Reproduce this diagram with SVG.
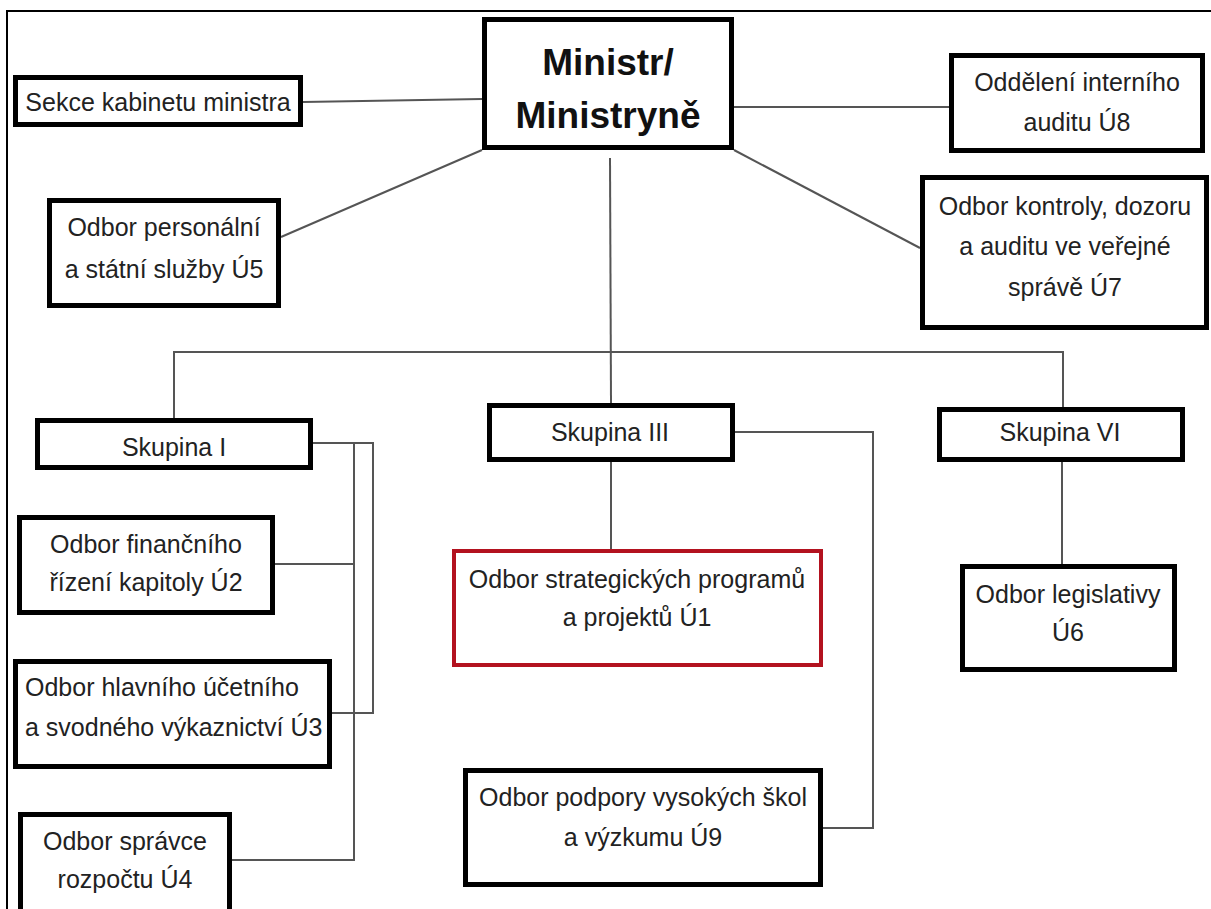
<svg xmlns="http://www.w3.org/2000/svg" width="1211" height="909" viewBox="0 0 1211 909">
<style>
.box{fill:#fff;stroke:#000;stroke-width:5}
.red{fill:#fff;stroke:#b3121f;stroke-width:4}
.t{font-family:"Liberation Sans",Arial,sans-serif;font-size:25px;fill:#222;text-anchor:middle}
.tl{text-anchor:start}
.b{font-family:"Liberation Sans",Arial,sans-serif;font-size:37px;font-weight:bold;fill:#111;text-anchor:middle}
.c{fill:none;stroke:#555;stroke-width:2}
.frame{fill:none;stroke:#000;stroke-width:2}
</style>
<rect width="1211" height="909" fill="#fff"/>
<path class="frame" d="M7,909 V11 H1211"/>
<g id="connectors">
<line class="c" x1="303" y1="102" x2="482" y2="99"/>
<line class="c" x1="734" y1="107" x2="949" y2="107"/>
<line class="c" x1="482" y1="150" x2="281" y2="237"/>
<line class="c" x1="734" y1="150" x2="920" y2="248"/>
<line class="c" x1="610" y1="158" x2="611" y2="403"/>
<polyline class="c" points="174,418 174,352 1063,352 1063,407"/>
<line class="c" x1="611" y1="462" x2="611" y2="549"/>
<polyline class="c" points="735,432 873,432 873,828 823,828"/>
<line class="c" x1="1062" y1="462" x2="1062" y2="564"/>
<polyline class="c" points="313,443 373,443 373,713 332,713"/>
<polyline class="c" points="354,443 354,860 232,860"/>
<line class="c" x1="275" y1="564" x2="354" y2="564"/>
</g>
<g id="minister">
<rect class="box" x="484.5" y="19.5" width="247" height="128"/>
<text class="b" x="608" y="75">Ministr/</text>
<text class="b" x="608" y="128">Ministryně</text>
</g>
<g id="sekce">
<rect class="box" x="15.5" y="77.5" width="285" height="47"/>
<text class="t" x="158" y="111">Sekce kabinetu ministra</text>
</g>
<g id="u8">
<rect class="box" x="951.5" y="55.5" width="251" height="95"/>
<text class="t" x="1077" y="91">Oddělení interního</text>
<text class="t" x="1077" y="131">auditu Ú8</text>
</g>
<g id="u5">
<rect class="box" x="49.5" y="200.5" width="229" height="105"/>
<text class="t" x="164" y="236">Odbor personální</text>
<text class="t" x="164" y="278">a státní služby Ú5</text>
</g>
<g id="u7">
<rect class="box" x="922.5" y="177.5" width="284" height="150"/>
<text class="t" x="1065" y="215">Odbor kontroly, dozoru</text>
<text class="t" x="1065" y="255">a auditu ve veřejné</text>
<text class="t" x="1065" y="296">správě Ú7</text>
</g>
<g id="skupina1">
<rect class="box" x="37.5" y="420.5" width="273" height="47"/>
<text class="t" x="174" y="456">Skupina I</text>
</g>
<g id="skupina3">
<rect class="box" x="489.5" y="405.5" width="243" height="54"/>
<text class="t" x="610" y="441">Skupina III</text>
</g>
<g id="skupina6">
<rect class="box" x="939.5" y="409.5" width="243" height="50"/>
<text class="t" x="1060" y="441">Skupina VI</text>
</g>
<g id="u2">
<rect class="box" x="19.5" y="517.5" width="253" height="95"/>
<text class="t" x="146" y="553">Odbor finančního</text>
<text class="t" x="146" y="591">řízení kapitoly Ú2</text>
</g>
<g id="u3">
<rect class="box" x="15.5" y="661.5" width="314" height="105"/>
<text class="t tl" x="25" y="696">Odbor hlavního účetního</text>
<text class="t tl" x="25" y="736">a svodného výkaznictví Ú3</text>
</g>
<g id="u4">
<rect class="box" x="20.5" y="814.5" width="209" height="100"/>
<text class="t" x="125" y="850">Odbor správce</text>
<text class="t" x="125" y="888">rozpočtu Ú4</text>
</g>
<g id="u1">
<rect class="red" x="454" y="551" width="367" height="114"/>
<text class="t" x="637" y="588">Odbor strategických programů</text>
<text class="t" x="637" y="626">a projektů Ú1</text>
</g>
<g id="u9">
<rect class="box" x="465.5" y="770.5" width="355" height="114"/>
<text class="t" x="643" y="806">Odbor podpory vysokých škol</text>
<text class="t" x="643" y="846">a výzkumu Ú9</text>
</g>
<g id="u6">
<rect class="box" x="962.5" y="566.5" width="212" height="103"/>
<text class="t" x="1068" y="603">Odbor legislativy</text>
<text class="t" x="1068" y="641">Ú6</text>
</g>
</svg>
